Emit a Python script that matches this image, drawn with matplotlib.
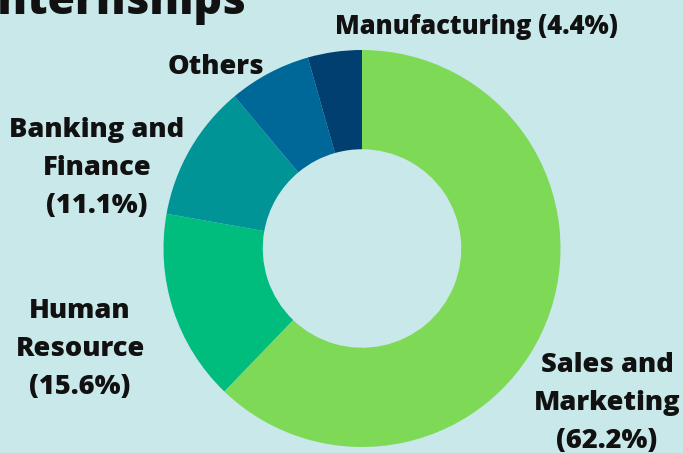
import matplotlib
matplotlib.use("Agg")
import matplotlib.pyplot as plt

categories = ["Sales and\nMarketing", "Human\nResource", "Banking and\nFinance", "Others", "Manufacturing"]
values = [62.2, 15.6, 11.1, 6.7, 4.4]
colors = ["#7ed957", "#00bd7e", "#009497", "#006898", "#003f70"]
title = "Internships"

W, H = 683, 453
bg = "#c8e8ea"
plt.rcParams['font.family'] = ['Open Sans', 'DejaVu Sans']

fig = plt.figure(figsize=(W/100, H/100), dpi=100, facecolor=bg)
ax = fig.add_axes([0, 0, 1, 1])
ax.set_facecolor(bg)

cx, cy, r = 362, H - 248.5, 198.5
ax.pie(values, colors=colors, startangle=90, counterclock=False,
       center=(cx, cy), radius=r, wedgeprops=dict(width=r * 0.5, linewidth=0),
       frame=True)
ax.set_xlim(0, W)
ax.set_ylim(0, H)
ax.set_aspect('equal')
ax.axis('off')

# label positions (pixel coords from top-left) and sizes
label_pos = {
    0: (607, 403, 19.6),
    1: (80, 349, 19.6),
    2: (97, 168, 19.6),
    3: (216, 67, 19.6),
    4: (476, 27, 18.4),
}
for i, (px, py, fs) in label_pos.items():
    if i == 3:
        txt = categories[i]
    elif i == 4:
        txt = f"{categories[i]} ({values[i]}%)"
    else:
        txt = f"{categories[i]}\n({values[i]}%)"
    ax.text(px, H - py, txt, ha='center', va='center', fontsize=fs,
            fontweight='heavy', color='#111111', linespacing=1.62)

ax.text(-17, H - 14, title, ha='left', va='baseline', fontsize=32,
        fontweight='heavy', color='#111111')

fig.savefig("out.png", dpi=100, facecolor=bg)
